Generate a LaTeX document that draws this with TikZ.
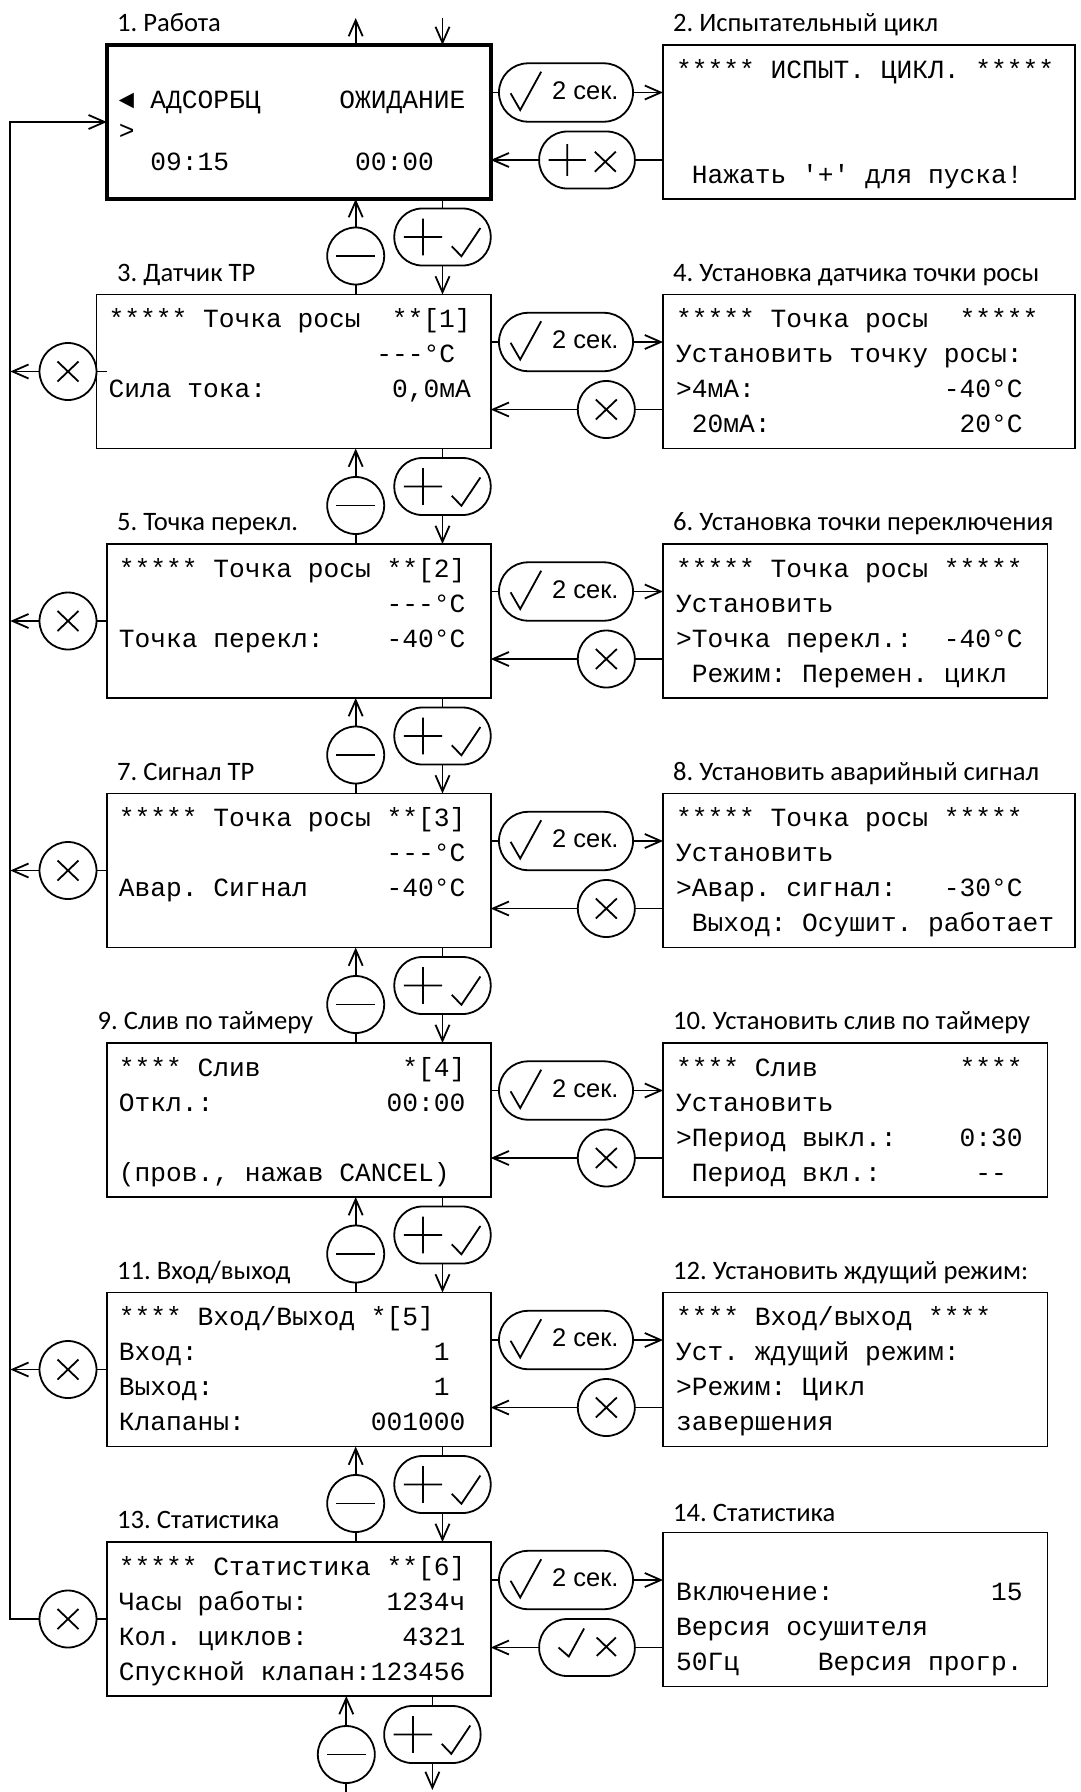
\documentclass[tikz,border=0pt]{standalone}
\usepackage{fontspec}
\usetikzlibrary{arrows.meta}
\newfontfamily\lcdf{Liberation Mono}[Ligatures=TeXOff]
\newfontfamily\lblf{Carlito}
\newfontfamily\btnf{Liberation Sans}
\frenchspacing
\tikzset{
 ln/.style={line width=1.8pt},
 arr/.style={line width=1.8pt,-{Straight Barb[length=16pt,width=14pt]}},
 lcd/.style={draw,line width=1.8pt,anchor=north west,inner sep=0pt,outer sep=0pt,minimum height=154pt},
 mono/.style={font={\lcdf\fontsize{26.25pt}{30pt}\selectfont},anchor=base west,inner sep=0pt,outer sep=0pt},
 lbl/.style={font={\lblf\fontsize{26.6pt}{30pt}\selectfont},anchor=base west,inner sep=0pt},
 btntxt/.style={font={\btnf\fontsize{25.5pt}{28pt}\selectfont},anchor=base,inner sep=0pt},
 pillbox/.style={draw,line width=1.8pt,rounded corners=28pt,minimum height=57pt,inner sep=0pt,outer sep=0pt},
 rnd/.style={draw,circle,line width=1.8pt,minimum size=57pt,inner sep=0pt,outer sep=0pt},
 sym/.style={line width=1.8pt},
 pics/symminus/.style={code={\draw[sym] (-19.3,0) -- (19.3,0);}},
 pics/symcross/.style={code={\draw[sym] (-10.5,-10) -- (10.5,10) (-10.5,10) -- (10.5,-10);}},
 pics/symfwd/.style={code={\draw[sym] (-55.4,0.8) -- (-45.8,17.5) -- (-24.8,-20.8);}},
 pics/sympluschk/.style={code={\draw[sym] (-38.7,0) -- (-0.3,0) (-19.5,-18.4) -- (-19.5,18.4) (9.3,9.3) -- (18.9,19.3) -- (37.9,-9);}},
 pics/symplusx/.style={code={\draw[sym] (-38.5,0) -- (-1.1,0) (-19.8,-15.8) -- (-19.8,15.8) (7.8,-8.3) -- (28.8,11.7) (7.8,11.7) -- (28.8,-8.3);}},
 pics/symchkx/.style={code={\draw[sym] (-28.5,0) -- (-18.2,9) -- (-2.9,-19) (9.7,-10) -- (28.9,8.4) (9.7,8.4) -- (28.9,-10);}},
}
\begin{document}
\begin{tikzpicture}[x=1pt,y=-1pt]
\fill[white] (0,0) rectangle (1080,1792);
\useasboundingbox (0,0) rectangle (1080,1792);

% left boxes
\node[lcd,line width=4pt,minimum width=383.9pt] (L0) at (106.8,45) {};
\node[lcd,minimum width=394.3pt] (L1) at (96.4,294.5) {};
\node[lcd,minimum width=383.9pt] (L2) at (106.8,544) {};
\node[lcd,minimum width=383.9pt] (L3) at (106.8,793.5) {};
\node[lcd,minimum width=383.9pt] (L4) at (106.8,1043) {};
\node[lcd,minimum width=383.9pt] (L5) at (106.8,1292.5) {};
\node[lcd,minimum width=383.9pt] (L6) at (106.8,1542) {};
% right boxes
\node[lcd,minimum width=412pt] (R0) at (663,45) {};
\node[lcd,minimum width=412pt] (R1) at (663,294.5) {};
\node[lcd,minimum width=384.5pt] (R2) at (663,544) {};
\node[lcd,minimum width=412pt] (R3) at (663,793.5) {};
\node[lcd,minimum width=384.5pt] (R4) at (663,1043) {};
\node[lcd,minimum width=384.5pt] (R5) at (663,1292.5) {};
\node[lcd,minimum width=384.5pt] (R6) at (663,1532.5) {};

% labels
\node[lbl] (h1) at (117,31.5) {1. Работа};
\node[lbl] (h2) at (673,31.5) {2. Испытательный цикл};
\node[lbl] (h3) at (117,281) {3. Датчик ТР};
\node[lbl] (h4) at (673,281) {4. Установка датчика точки росы};
\node[lbl] (h5) at (117,530.5) {5. Точка перекл.};
\node[lbl] (h6) at (673,530.5) {6. Установка точки переключения};
\node[lbl] (h7) at (117,780) {7. Сигнал ТР};
\node[lbl] (h8) at (673,780) {8. Установить аварийный сигнал};
\node[lbl] (h9) at (97.5,1029.5) {9. Слив по таймеру};
\node[lbl] (h10) at (673,1029.5) {10. Установить слив по таймеру};
\node[lbl] (h11) at (117,1279) {11. Вход/выход};
\node[lbl] (h12) at (673,1279) {12. Установить ждущий режим:};
\node[lbl] (h13) at (117,1528.5) {13. Статистика};
\node[lbl] (h14) at (673,1521) {14. Статистика};

% texts box 1
\node[mono] (s0a) at (118.8,108.3) {◄~АДСОРБЦ~~~~~ОЖИДАНИЕ};
\node[mono] (s0b) at (118.8,139.5) {>};
\node[mono] (s0c) at (118.8,170.7) {~~09:15~~~~~~~~00:00};
% box 2
\node[mono] (s1a) at (676,78) {*****~ИСПЫТ.~ЦИКЛ.~*****};
\node[mono] (s1d) at (676,183) {~Нажать~'+'~для~пуска!};
% box 3
\node[mono] (s2a) at (108.5,327.5) {*****~Точка~росы~~**[1]};
\node[mono] (s2b) at (108.5,362.5) {~~~~~~~~~~~~~~~~~---°C};
\node[mono] (s2c) at (108.5,397.5) {Сила~тока:~~~~~~~~0,0мА};
% box 4
\node[mono] (s3a) at (676,327.5) {*****~Точка~росы~~*****};
\node[mono] (s3b) at (676,362.5) {Установить~точку~росы:};
\node[mono] (s3c) at (676,397.5) {>4мА:~~~~~~~~~~~~-40°C};
\node[mono] (s3d) at (676,432.5) {~20мА:~~~~~~~~~~~~20°C};
% box 5
\node[mono] (s4a) at (118.8,577) {*****~Точка~росы~**[2]};
\node[mono] (s4b) at (118.8,612) {~~~~~~~~~~~~~~~~~---°C};
\node[mono] (s4c) at (118.8,647) {Точка~перекл:~~~~-40°C};
% box 6
\node[mono] (s5a) at (676,577) {*****~Точка~росы~*****};
\node[mono] (s5b) at (676,612) {Установить};
\node[mono] (s5c) at (676,647) {>Точка~перекл.:~~-40°C};
\node[mono] (s5d) at (676,682) {~Режим:~Перемен.~цикл};
% box 7
\node[mono] (s6a) at (118.8,826.5) {*****~Точка~росы~**[3]};
\node[mono] (s6b) at (118.8,861.5) {~~~~~~~~~~~~~~~~~---°C};
\node[mono] (s6c) at (118.8,896.5) {Авар.~Сигнал~~~~~-40°C};
% box 8
\node[mono] (s7a) at (676,826.5) {*****~Точка~росы~*****};
\node[mono] (s7b) at (676,861.5) {Установить};
\node[mono] (s7c) at (676,896.5) {>Авар.~сигнал:~~~-30°C};
\node[mono] (s7d) at (676,931.5) {~Выход:~Осушит.~работает};
% box 9
\node[mono] (s8a) at (118.8,1076) {****~Слив~~~~~~~~~*[4]};
\node[mono] (s8b) at (118.8,1111) {Откл.:~~~~~~~~~~~00:00};
\node[mono] (s8d) at (118.8,1181) {(пров.,~нажав~CANCEL)};
% box 10
\node[mono] (s9a) at (676,1076) {****~Слив~~~~~~~~~****};
\node[mono] (s9b) at (676,1111) {Установить};
\node[mono] (s9c) at (676,1146) {>Период~выкл.:~~~~0:30};
\node[mono] (s9d) at (676,1181) {~Период~вкл.:~~~~~~--};
% box 11
\node[mono] (s10a) at (118.8,1325.5) {****~Вход/Выход~*[5]};
\node[mono] (s10b) at (118.8,1360.5) {Вход:~~~~~~~~~~~~~~~1};
\node[mono] (s10c) at (118.8,1395.5) {Выход:~~~~~~~~~~~~~~1};
\node[mono] (s10d) at (118.8,1430.5) {Клапаны:~~~~~~~~001000};
% box 12
\node[mono] (s11a) at (676,1325.5) {****~Вход/выход~****};
\node[mono] (s11b) at (676,1360.5) {Уст.~ждущий~режим:};
\node[mono] (s11c) at (676,1395.5) {>Режим:~Цикл};
\node[mono] (s11d) at (676,1430.5) {завершения};
% box 13
\node[mono] (s12a) at (118.8,1575) {*****~Статистика~**[6]};
\node[mono] (s12b) at (118.8,1610) {Часы~работы:~~~~~1234ч};
\node[mono] (s12c) at (118.8,1645) {Кол.~циклов:~~~~~~4321};
\node[mono] (s12d) at (118.8,1680) {Спускной~клапан:123456};
% box 14
\node[mono] (s13b) at (676,1600.5) {Включение:~~~~~~~~~~15};
\node[mono] (s13c) at (676,1635.5) {Версия~осушителя};
\node[mono] (s13d) at (676,1670.5) {50Гц~~~~~Версия~прогр.};

% vertical connectors
\foreach \i/\j/\yb in {0/1/199,1/2/448.5,2/3/698,3/4/947.5,4/5/1197,5/6/1446.5}{
  \node[rnd] (m\i) at (355.7,\yb+57) {};
  \pic at (m\i.center) {symminus};
  \draw[arr] (m\i.north) -- (m\i.north |- L\i.south);
  \draw[ln] (m\i.south) -- (m\i.south |- L\j.north);
  \node[pillbox,minimum width=96.4pt] (p\i) at (442.5,\yb+38) {};
  \pic at (p\i.center) {sympluschk};
  \draw[ln] (p\i.north |- L\i.south) -- (p\i.north);
  \draw[arr] (p\i.south) -- (p\i.south |- L\j.north);
}
% top arrows
\coordinate (tup) at (355.7,18);
\coordinate (tdn) at (442.5,18);
\draw[arr] (tup |- L0.north) -- (tup);
\draw[arr] (tdn) -- (tdn |- L0.north);
% bottom
\node[rnd] (m6) at (346.3,1754.5) {};
\pic at (m6.center) {symminus};
\node[pillbox,minimum width=96.4pt] (p6) at (432.4,1734.5) {};
\pic at (p6.center) {sympluschk};
\coordinate (bm) at (346.3,1792);
\coordinate (bp) at (432.4,1790);
\draw[arr] (m6.north) -- (m6.north |- L6.south);
\draw[ln] (m6.south) -- (bm);
\draw[ln] (p6.north |- L6.south) -- (p6.north);
\draw[arr] (p6.south) -- (bp);

% forward pills
\foreach \i/\r in {0/45,1/294.5,2/544,3/793.5,4/1043,5/1292.5,6/1532.5}{
  \node[pillbox,minimum width=134pt,minimum height=58.4pt,rounded corners=29pt] (f\i) at (566,\r+47.5) {};
  \pic at (f\i.center) {symfwd};
  \node[btntxt] (ft\i) at ([shift={(19.3,6.5)}]f\i.center) {2 сек.};
  \draw[ln] (f\i.west -| L\i.east) -- (f\i.west);
  \draw[arr] (f\i.east) -- (f\i.east -| R\i.west);
}
% return symbols
\node[pillbox,minimum width=95.7pt] (r0) at (587,160) {};
\pic at (r0.center) {symplusx};
\foreach \i/\r in {1/294.5,2/544,3/793.5,4/1043,5/1292.5}{
  \node[rnd] (r\i) at (606.3,\r+115) {};
  \pic at (r\i.center) {symcross};
}
\node[pillbox,minimum width=95.7pt] (r6) at (587,1647.5) {};
\pic at (r6.center) {symchkx};
\foreach \i in {0,...,6}{
  \draw[ln] (r\i.east -| R\i.west) -- (r\i.east);
  \draw[arr] (r\i.west) -- (r\i.west -| L\i.east);
}

% left cancel circles and feedback line
\coordinate (fbtop) at (10.3,122);
\coordinate (fbbot) at (10.3,1619);
\foreach \i/\t in {1/294.5,2/544,3/793.5,5/1292.5,6/1542}{
  \node[rnd] (x\i) at (68,\t+77) {};
  \pic at (x\i.center) {symcross};
  \draw[ln] (x\i.east) -- (x\i.east -| L0.west);
}
\foreach \i in {1,2,3,5}{
  \draw[arr] (x\i.west) -- (x\i.west -| fbtop);
}
\draw[arr] (x6.west) -- (fbbot) -- (fbtop) -- (L0.west);
\end{tikzpicture}
\end{document}
